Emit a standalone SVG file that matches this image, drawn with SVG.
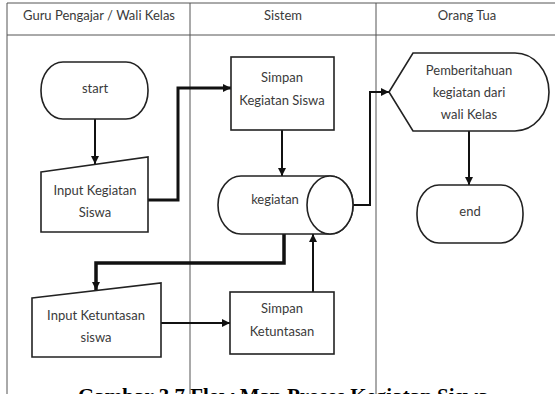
<svg xmlns="http://www.w3.org/2000/svg" width="555" height="394" viewBox="0 0 555 394">
  <defs>
    <marker id="arrow" viewBox="0 0 10 10" refX="10" refY="5" markerWidth="9" markerHeight="8" markerUnits="userSpaceOnUse" orient="auto">
      <path d="M0,0 L10,5 L0,10 Z" fill="#111"/>
    </marker>
    <style>
      .grid { stroke: #555; stroke-width: 1; fill: none; }
      .shape { fill: #fff; stroke: #222; stroke-width: 1.6; }
      .label { font-family: Lato, "Liberation Sans", sans-serif; font-size: 13px; fill: #3a3a3a; text-anchor: middle; }
      .conn { fill: none; stroke: #111; stroke-width: 2; marker-end: url(#arrow); }
      .thick { stroke-width: 3; }
      .caption { font-family: "Liberation Serif", serif; font-size: 21px; font-weight: bold; fill: #000; }
    </style>
  </defs>

  <rect width="555" height="394" fill="#fff"/>

  <!-- swimlane table -->
  <g id="lanes">
    <path class="grid" d="M7,394 V3 H555 M7,35 H555 M190,3 V394 M376,3 V394"/>
    <text class="label" x="99" y="20">Guru Pengajar / Wali Kelas</text>
    <text class="label" x="283" y="20">Sistem</text>
    <text class="label" x="467" y="20">Orang Tua</text>
  </g>

  <!-- connectors -->
  <g id="connectors">
    <path class="conn" d="M95,119 V164"/>
    <path class="conn thick" d="M145,200 H178 V88 H231"/>
    <path class="conn" d="M282,130 V176"/>
    <path class="conn" d="M353,205 H370 V92 H389"/>
    <path class="conn thick" d="M284,230 V263 H96 V290" style="stroke-width:3.5"/>
    <path class="conn" d="M161,323 H230"/>
    <path class="conn" d="M313,292 V234"/>
    <path class="conn" d="M469,131 V185"/>
  </g>

  <g id="start">
    <rect class="shape" x="41" y="62" width="107" height="57" rx="22" ry="28"/>
    <text class="label" x="95" y="93">start</text>
  </g>

  <g id="input-kegiatan">
    <path class="shape" d="M41,172 L148,157 V232 H41 Z"/>
    <text class="label" x="95" y="195">Input Kegiatan</text>
    <text class="label" x="95" y="217">Siswa</text>
  </g>

  <g id="simpan-kegiatan">
    <rect class="shape" x="231" y="57" width="103" height="73"/>
    <text class="label" x="282" y="82">Simpan</text>
    <text class="label" x="282" y="105">Kegiatan Siswa</text>
  </g>

  <g id="kegiatan">
    <path class="shape" d="M241,176 H330 A23,29 0 0 1 330,234 H241 A23,29 0 0 1 241,176 Z"/>
    <ellipse class="shape" cx="330" cy="205" rx="23" ry="29"/>
    <text class="label" x="275" y="204">kegiatan</text>
  </g>

  <g id="pemberitahuan">
    <path class="shape" d="M389,92 L413,53 H515 A34,39 0 0 1 515,131 H413 Z"/>
    <text class="label" x="469" y="75">Pemberitahuan</text>
    <text class="label" x="469" y="97">kegiatan dari</text>
    <text class="label" x="469" y="119">wali Kelas</text>
  </g>

  <g id="end">
    <rect class="shape" x="417" y="185" width="106" height="58" rx="22" ry="28"/>
    <text class="label" x="470" y="216">end</text>
  </g>

  <g id="input-ketuntasan">
    <path class="shape" d="M32,298 L161,283 V357 H32 Z"/>
    <text class="label" x="96" y="320">Input Ketuntasan</text>
    <text class="label" x="96" y="342">siswa</text>
  </g>

  <g id="simpan-ketuntasan">
    <rect class="shape" x="230" y="292" width="104" height="62"/>
    <text class="label" x="282" y="313">Simpan</text>
    <text class="label" x="282" y="336">Ketuntasan</text>
  </g>

  <!-- figure caption, running past the lower edge -->
  <text class="caption" x="78" y="403">Gambar 3.7 Flow Map Proses Kegiatan Siswa</text>
</svg>
